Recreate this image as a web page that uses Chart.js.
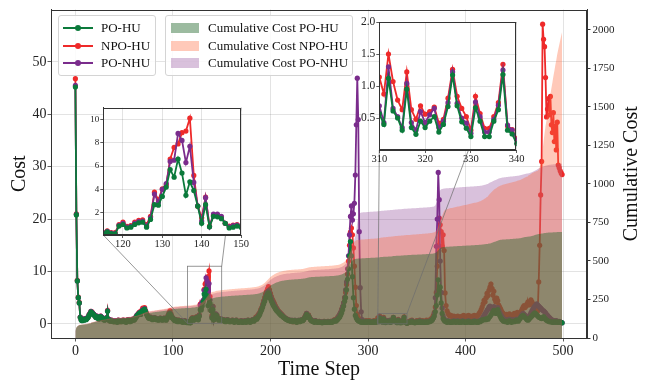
<!DOCTYPE html>
<html>
<head>
<meta charset="utf-8">
<title>Cost and cumulative cost</title>
<script src="https://cdn.jsdelivr.net/npm/chart.js@4.4.0/dist/chart.umd.min.js"></script>
<style>
  html, body { margin: 0; padding: 0; background: #fff; }
  #wrap { position: relative; width: 651px; height: 382px; overflow: hidden; font-family: 'Liberation Serif', 'Times New Roman', serif; }
  #wrap canvas { position: absolute; }
  .legend { position: absolute; background: rgba(255,255,255,0.85); border: 1px solid #d4d4d4; border-radius: 3px; font-size: 13px; color: #111; }
  .legend .row { position: absolute; left: 0; right: 0; height: 18px; line-height: 18px; }
  .legend .txt { position: absolute; left: 42px; white-space: nowrap; }
  .legend .ln { position: absolute; left: 4px; top: 8px; width: 30px; height: 2px; }
  .legend .dot { position: absolute; left: 16px; top: 6px; width: 6px; height: 6px; border-radius: 50%; }
  .legend .patch { position: absolute; left: 5px; top: 4px; width: 28px; height: 10px; }
</style>
</head>
<body>
<div id="wrap">
  <canvas id="main" width="651" height="382" style="left:0;top:0"></canvas>
  <canvas id="inset1" width="172" height="152" style="left:78px;top:100px"></canvas>
  <canvas id="inset2" width="178" height="156" style="left:348px;top:12px"></canvas>
  <div class="legend" id="leg1" style="left:58px;top:15px;width:96px;height:59px"></div>
  <div class="legend" id="leg2" style="left:165px;top:15px;width:186px;height:59px"></div>
</div>
<script>
// cost per time step, t = 0..499
const poHu = [
  45.2,20.8,8.2,5.0,4.0,1.2,0.7,0.6,0.8,0.7,
  0.9,0.8,1.0,1.2,1.6,1.9,2.3,2.1,1.9,1.7,
  1.5,1.2,1.4,1.1,0.9,1.3,1.4,1.2,1.0,0.8,
  0.7,0.9,1.1,2.4,0.8,0.6,0.5,0.6,0.5,0.4,
  0.4,0.5,0.4,0.3,0.6,0.5,0.4,0.5,0.4,0.6,
  0.5,0.4,0.3,0.5,0.7,0.6,0.4,0.5,0.7,0.8,
  0.7,0.9,1.2,1.5,1.7,1.9,2.1,1.8,2.3,2.6,
  2.5,2.8,2.3,1.8,1.4,1.1,1.0,1.2,1.0,0.8,
  0.9,1.1,1.0,0.8,0.9,0.7,0.8,1.0,0.9,0.7,
  0.8,1.0,0.9,0.7,1.0,1.4,1.8,1.9,1.6,1.2,
  1.0,0.8,0.6,0.7,0.5,0.4,0.6,0.5,0.4,0.5,
  0.3,0.4,0.5,0.3,0.3,0.23,0.37,0.23,0.2,0.86,
  1.0,0.7,0.77,1.0,1.14,1.2,0.77,1.43,2.7,2.65,
  3.4,4.2,5.7,5.05,6.6,5.4,3.5,4.65,3.9,2.57,
  1.1,2.7,0.8,1.7,1.66,1.5,1.1,0.7,0.77,0.86,
  0.77,0.6,0.7,0.5,0.4,0.6,0.7,0.5,0.4,0.4,
  0.5,0.6,0.4,0.3,0.5,0.6,0.4,0.3,0.3,0.4,
  0.5,0.3,0.3,0.4,0.5,0.3,0.4,0.6,0.5,0.3,
  0.4,0.6,0.7,0.5,0.8,1.0,0.9,1.2,1.5,1.8,
  2.3,2.7,3.2,3.8,4.3,4.9,5.3,5.7,5.9,5.5,
  4.8,4.3,3.9,3.5,3.2,2.9,2.6,2.4,2.2,2.0,
  1.8,1.6,1.5,1.3,1.2,1.0,0.9,0.8,0.7,0.6,
  0.6,0.5,0.6,0.4,0.5,0.6,0.4,0.3,0.5,0.6,
  0.4,0.5,0.7,0.6,0.8,1.1,1.4,1.8,1.3,1.5,
  1.1,0.8,0.6,0.5,0.4,0.3,0.5,0.4,0.3,0.3,
  0.4,0.3,0.3,0.2,0.3,0.4,0.3,0.3,0.3,0.4,
  0.3,0.3,0.4,0.3,0.4,0.5,0.6,0.5,0.7,0.9,
  1.1,1.3,1.7,2.1,2.7,3.4,4.3,5.0,6.5,8.5,
  10.5,13.0,15.7,13.0,9.0,5.0,2.8,1.6,1.1,0.8,
  0.6,0.5,0.4,0.3,0.4,0.3,0.3,0.4,0.3,0.3,
  0.4,0.4,0.3,0.3,0.3,0.4,0.4,0.3,0.3,0.4,
  0.57,0.4,1.12,0.61,0.5,0.31,0.95,0.35,0.245,0.45,
  0.35,0.45,0.52,0.28,0.4,0.68,1.17,0.69,0.44,0.34,
  0.21,0.66,0.45,0.21,0.21,0.45,0.63,1.18,0.31,0.25,
  0.1,0.3,0.3,0.3,0.4,0.5,0.3,0.3,0.2,0.3,
  0.4,0.3,0.3,0.5,0.3,0.3,0.4,0.3,0.3,0.3,
  0.4,0.3,0.4,0.4,0.5,0.6,0.8,1.1,1.5,2.3,
  3.5,5.5,8.4,6.5,7.0,4.0,2.0,1.0,0.7,0.5,
  0.4,0.3,0.5,0.4,0.3,0.3,0.4,0.3,0.5,0.4,
  0.3,0.4,0.5,0.3,0.3,0.4,0.3,0.5,0.4,0.3,
  0.3,0.4,0.3,0.5,0.4,0.3,0.3,0.4,0.3,0.5,
  0.4,0.3,0.4,0.3,0.5,0.4,0.6,0.7,0.8,0.8,
  0.9,0.8,1.0,0.9,1.2,1.4,1.7,2.0,2.3,2.6,
  2.3,2.0,2.4,2.7,2.1,1.6,1.2,0.9,0.7,0.5,
  0.5,0.4,0.5,0.3,0.4,0.6,0.5,0.3,0.4,0.5,
  0.4,0.5,0.7,0.6,0.5,0.8,1.0,1.3,1.5,1.6,
  1.4,1.2,1.0,0.8,0.7,0.9,1.1,1.3,1.5,1.7,
  1.9,2.1,1.9,1.7,1.5,1.3,1.2,1.1,1.0,1.2,
  1.4,1.1,0.9,0.7,0.6,0.5,0.4,0.4,0.4,0.3,
  0.3,0.4,0.3,0.4,0.3,0.3,0.4,0.3,0.3,0.2
];
const npoHu = [
  46.8,21.0,8.3,5.1,4.1,1.3,0.8,0.7,0.9,0.8,
  1.0,0.9,1.1,1.3,1.7,2.0,2.4,2.3,2.0,1.8,
  1.6,1.3,1.5,1.2,1.0,1.4,1.5,1.3,1.1,0.9,
  0.8,1.0,1.2,2.6,0.9,0.7,0.5,0.7,0.6,0.5,
  0.4,0.6,0.5,0.4,0.7,0.5,0.4,0.6,0.5,0.7,
  0.6,0.5,0.4,0.6,0.8,0.7,0.5,0.6,0.8,0.9,
  0.8,1.0,1.3,1.6,1.8,2.1,2.3,2.0,2.6,3.0,
  2.8,3.1,2.5,2.0,1.6,1.2,1.1,1.3,1.1,0.9,
  1.0,1.2,1.1,0.9,1.0,0.8,0.9,1.1,1.0,0.8,
  0.9,1.1,1.0,0.8,1.1,1.6,2.1,2.5,1.9,1.4,
  1.1,0.9,0.7,0.8,0.6,0.5,0.7,0.6,0.5,0.6,
  0.4,0.5,0.6,0.4,0.4,0.3,0.45,0.3,0.3,1.0,
  1.2,0.85,0.9,1.2,1.35,1.4,1.0,1.7,3.77,3.1,
  4.06,4.4,6.6,7.6,7.9,8.86,9.0,10.1,5.2,2.57,
  1.57,3.34,0.86,1.8,1.8,1.63,1.1,0.86,0.94,1.0,
  0.86,0.7,0.8,0.6,0.5,0.7,0.8,0.6,0.5,0.5,
  0.6,0.7,0.5,0.4,0.6,0.7,0.5,0.4,0.4,0.5,
  0.6,0.4,0.4,0.5,0.6,0.4,0.5,0.7,0.6,0.4,
  0.5,0.7,0.8,0.6,0.9,1.3,1.3,1.6,1.9,2.2,
  2.7,3.1,3.7,4.4,5.0,5.7,6.2,6.7,7.1,6.5,
  5.8,5.2,4.7,4.3,3.9,3.5,3.1,2.8,2.5,2.3,
  2.1,1.9,1.7,1.5,1.3,1.1,1.0,0.9,0.8,0.7,
  0.6,0.5,0.6,0.4,0.5,0.6,0.4,0.4,0.5,0.6,
  0.5,0.6,0.8,0.7,0.9,1.3,1.6,2.0,1.5,1.7,
  1.3,0.9,0.7,0.6,0.5,0.4,0.6,0.5,0.4,0.4,
  0.5,0.4,0.4,0.3,0.4,0.5,0.4,0.3,0.4,0.5,
  0.4,0.4,0.5,0.4,0.5,0.7,0.8,0.7,1.0,1.3,
  1.5,1.8,2.2,2.8,3.3,4.0,5.0,6.0,7.5,9.5,
  12.0,15.0,17.5,18.3,17.0,14.5,11.0,7.0,3.5,1.8,
  1.2,0.8,0.6,0.5,0.4,0.5,0.4,0.5,0.6,0.4,
  0.5,0.6,0.4,0.5,0.3,0.4,0.6,0.5,0.4,0.6,
  1.14,0.875,1.5,1.07,0.78,0.63,1.22,0.63,0.48,0.69,
  0.56,0.6,0.67,0.42,0.48,0.81,1.26,0.84,0.65,0.52,
  0.31,0.84,0.57,0.34,0.34,0.52,0.74,1.34,0.375,0.32,
  0.18,0.4,0.5,0.4,0.6,0.7,0.5,0.4,0.4,0.5,
  0.6,0.4,0.5,0.7,0.5,0.4,0.6,0.5,0.4,0.5,
  0.7,0.6,0.5,0.7,0.8,1.0,1.2,1.6,2.2,3.2,
  6.0,11.0,15.0,20.2,18.9,17.6,14.8,17.0,14.0,5.9,
  3.5,2.5,2.0,1.7,1.5,1.6,1.4,1.3,1.5,1.4,
  1.3,1.4,1.5,1.3,1.2,1.4,1.3,1.5,1.6,1.4,
  1.3,1.5,1.4,1.6,1.5,1.3,1.4,1.5,1.4,1.6,
  1.5,1.4,1.5,1.7,2.0,2.3,2.7,3.2,3.8,4.5,
  4.2,5.0,5.8,5.4,6.4,7.0,7.6,6.8,5.5,6.2,
  4.7,4.2,4.9,4.4,3.6,3.2,2.8,2.4,2.1,1.9,
  1.7,1.6,1.8,1.5,1.7,1.9,1.6,1.4,1.6,1.8,
  2.0,1.7,1.9,2.2,2.0,1.8,2.1,2.4,2.8,3.2,
  3.5,3.1,3.4,3.8,4.2,3.6,4.1,4.6,4.2,3.8,
  3.4,2.8,2.4,2.1,2.5,8.0,15.0,24.6,31.0,57.2,
  54.3,52.9,47.0,39.5,41.0,43.0,39.9,43.4,38.0,36.5,
  40.3,34.8,37.7,33.2,38.5,30.3,29.8,29.2,28.8,28.5
];
const poNhu = [
  45.5,20.9,8.2,5.0,4.0,1.3,0.8,0.7,0.9,0.8,
  1.0,0.9,1.1,1.3,1.7,2.0,2.4,2.2,2.0,1.8,
  1.6,1.3,1.5,1.2,1.0,1.4,1.5,1.3,1.1,0.9,
  0.8,1.0,1.2,2.5,0.9,0.7,0.6,0.7,0.6,0.5,
  0.5,0.6,0.5,0.4,0.7,0.6,0.5,0.6,0.5,0.7,
  0.6,0.5,0.4,0.6,0.8,0.7,0.5,0.6,0.8,0.9,
  0.8,1.0,1.3,1.6,1.8,2.0,2.2,1.9,2.4,2.7,
  2.6,2.9,2.4,1.9,1.5,1.2,1.1,1.3,1.1,0.9,
  1.0,1.2,1.1,0.9,1.0,0.8,0.9,1.1,1.0,0.8,
  0.9,1.1,1.0,0.8,1.1,1.5,1.9,2.0,1.7,1.3,
  1.1,0.9,0.7,0.8,0.6,0.5,0.7,0.6,0.5,0.6,
  0.4,0.5,0.6,0.4,0.35,0.28,0.42,0.27,0.25,0.93,
  1.1,0.78,0.84,1.1,1.25,1.3,0.88,1.6,3.6,2.9,
  4.0,4.5,6.4,6.5,8.8,8.2,6.3,7.7,4.6,2.6,
  1.3,3.3,0.8,1.9,1.9,1.7,1.1,0.8,0.9,0.95,
  0.85,0.7,0.8,0.6,0.5,0.7,0.8,0.6,0.5,0.5,
  0.6,0.7,0.5,0.4,0.6,0.7,0.5,0.4,0.4,0.5,
  0.6,0.4,0.4,0.5,0.6,0.4,0.5,0.7,0.6,0.4,
  0.5,0.7,0.8,0.6,0.9,1.1,1.1,1.4,1.7,2.0,
  2.5,2.9,3.5,4.1,4.6,5.2,5.6,6.0,6.3,5.9,
  5.3,4.8,4.3,3.9,3.5,3.2,2.9,2.6,2.4,2.2,
  2.0,1.8,1.6,1.4,1.3,1.1,1.0,0.9,0.8,0.7,
  0.7,0.6,0.7,0.5,0.6,0.7,0.5,0.4,0.6,0.7,
  0.5,0.6,0.8,0.7,0.9,1.2,1.6,2.0,1.4,1.6,
  1.2,0.9,0.7,0.6,0.5,0.4,0.6,0.5,0.4,0.4,
  0.5,0.4,0.4,0.3,0.4,0.5,0.4,0.3,0.4,0.5,
  0.4,0.4,0.5,0.4,0.5,0.6,0.7,0.6,0.9,1.1,
  1.5,1.8,2.2,2.7,3.3,4.0,5.0,6.5,8.0,10.5,
  13.0,17.0,20.5,22.5,19.8,21.0,23.0,28.4,38.0,46.9,
  39.0,17.6,6.9,2.3,0.8,0.5,0.4,0.5,0.4,0.5,
  0.5,0.4,0.4,0.5,0.3,0.4,0.5,0.4,0.4,0.5,
  0.69,0.43,1.3,0.65,0.52,0.35,1.04,0.43,0.31,0.6,
  0.43,0.55,0.65,0.35,0.45,0.74,1.22,0.73,0.5,0.42,
  0.26,0.75,0.52,0.28,0.28,0.48,0.7,1.25,0.39,0.31,
  0.16,0.3,0.4,0.3,0.5,0.6,0.4,0.3,0.3,0.4,
  0.5,0.3,0.4,0.6,0.4,0.3,0.5,0.4,0.3,0.4,
  0.5,0.4,0.5,0.5,0.6,0.7,0.9,1.2,2.0,5.0,
  14.8,20.0,28.9,23.7,12.0,6.0,3.0,1.5,1.0,0.7,
  0.5,0.4,0.6,0.5,0.4,0.3,0.5,0.4,0.6,0.5,
  0.4,0.5,0.6,0.4,0.3,0.5,0.4,0.6,0.5,0.4,
  0.3,0.5,0.4,0.6,0.5,0.3,0.4,0.5,0.4,0.6,
  0.5,0.4,0.5,0.4,0.6,0.6,0.8,1.0,1.3,1.6,
  1.9,2.2,2.6,2.8,3.2,3.4,3.1,2.8,3.0,3.3,
  2.9,2.6,2.8,3.1,2.6,2.2,1.8,1.5,1.2,1.0,
  0.8,0.7,0.8,0.6,0.7,0.9,0.8,0.6,0.7,0.8,
  0.6,0.7,0.9,0.8,0.7,1.0,1.2,1.5,1.8,2.0,
  1.8,1.6,1.4,1.3,1.2,1.4,1.7,2.1,2.5,2.8,
  3.1,3.4,3.6,3.8,3.6,3.4,3.2,3.0,2.8,2.6,
  2.5,2.3,2.1,1.8,1.6,1.4,1.2,1.0,0.8,0.7,
  0.6,0.6,0.5,0.6,0.5,0.4,0.5,0.4,0.3,0.2
];

const costLabels = ['PO-HU', 'NPO-HU', 'PO-NHU'];
const cumLabels = ['Cumulative Cost PO-HU', 'Cumulative Cost NPO-HU', 'Cumulative Cost PO-NHU'];

// tick labels
const xTicks = [0, 100, 200, 300, 400, 500];
const costTicks = [0, 10, 20, 30, 40, 50];
const cumTicks = [0, 250, 500, 750, 1000, 1250, 1500, 1750, 2000];
const zoom1Range = [115, 150];
const zoom1XTicks = [120, 130, 140, 150];
const zoom1YTicks = [2, 4, 6, 8, 10];
const zoom2Range = [310, 340];
const zoom2XTicks = [310, 320, 330, 340];
const zoom2YTicks = [0.5, 1.0, 1.5, 2.0];

const FONT = "'Liberation Serif', 'Times New Roman', serif";
const GREEN = '#0b7a3b', RED = '#ee2a2a', PURPLE = '#7a2c8c';
const GREEN_FILL = 'rgba(35,105,45,0.45)';
const RED_FILL = 'rgba(255,105,60,0.36)';
const PURPLE_FILL = 'rgba(130,50,140,0.3)';
const INK = '#222';

// inset boxes on the page (plot area corners)
const BOX1 = { left: 103.3, top: 107.7, right: 241, bottom: 235 };
const BOX2 = { left: 379.3, top: 22, right: 516.7, bottom: 150 };

const xy = arr => arr.map((v, i) => ({ x: i, y: v }));
const cumsum = arr => { let s = 0; return arr.map(v => (s += v)); };

function lineDs(label, arr, color, order, range) {
  let pts = xy(arr);
  if (range) pts = pts.slice(range[0], range[1] + 1);
  return {
    label, data: pts, order,
    borderColor: color, backgroundColor: color,
    borderWidth: 1.8, pointRadius: 2.6, pointBorderWidth: 0,
    pointBackgroundColor: color, tension: 0, fill: false, yAxisID: 'y'
  };
}
function areaDs(label, arr, color, order) {
  return {
    label, data: xy(cumsum(arr)), order,
    borderWidth: 0, borderColor: 'rgba(0,0,0,0)', backgroundColor: color,
    pointRadius: 0, fill: 'origin', tension: 0, yAxisID: 'y2'
  };
}
const fixTicks = list => scale => { scale.ticks = list.map(v => ({ value: v })); };

const frame = {
  id: 'frame',
  beforeDraw(chart, args, opts) {
    if (!opts.white) return;
    const a = chart.chartArea, ctx = chart.ctx;
    ctx.save(); ctx.fillStyle = '#fff';
    ctx.fillRect(a.left, a.top, a.right - a.left, a.bottom - a.top);
    ctx.restore();
  },
  afterDraw(chart) {
    const a = chart.chartArea, ctx = chart.ctx;
    ctx.save(); ctx.strokeStyle = '#333'; ctx.lineWidth = 1;
    ctx.strokeRect(Math.round(a.left) + 0.5, Math.round(a.top) + 0.5,
      Math.round(a.right - a.left) - 1, Math.round(a.bottom - a.top) - 1);
    ctx.restore();
  }
};

// zoom rectangles and connector lines (mark_inset style)
const insetMarks = {
  id: 'insetMarks',
  afterDatasetsDraw(chart) {
    const { x, y } = chart.scales, ctx = chart.ctx;
    const marks = [
      { xr: zoom1Range, yr: [0.1, 11], box: BOX1 },
      { xr: zoom2Range, yr: [0, 2], box: BOX2 }
    ];
    ctx.save();
    ctx.strokeStyle = 'rgba(110,110,110,0.9)'; ctx.lineWidth = 0.8;
    marks.forEach(m => {
      const l = x.getPixelForValue(m.xr[0]), r = x.getPixelForValue(m.xr[1]);
      const b = y.getPixelForValue(m.yr[0]), t = y.getPixelForValue(m.yr[1]);
      ctx.strokeRect(l, t, r - l, b - t);
      ctx.beginPath();
      ctx.moveTo(r, t); ctx.lineTo(m.box.right, m.box.top);
      ctx.moveTo(l, b); ctx.lineTo(m.box.left, m.box.bottom);
      ctx.stroke();
    });
    ctx.restore();
  }
};

const rightTitle = {
  id: 'rightTitle',
  afterDraw(chart) {
    const a = chart.chartArea, ctx = chart.ctx;
    ctx.save();
    ctx.translate(632, (a.top + a.bottom) / 2);
    ctx.rotate(-Math.PI / 2);
    ctx.font = '20px ' + FONT; ctx.fillStyle = '#111';
    ctx.textAlign = 'center'; ctx.textBaseline = 'middle';
    ctx.fillText('Cumulative Cost', 0, 0);
    ctx.restore();
  }
};

const gridStyle = { color: 'rgba(0,0,0,0.14)', lineWidth: 0.8, tickColor: '#333', tickLength: 3.5 };

new Chart(document.getElementById('main'), {
  type: 'line',
  data: {
    datasets: [
      lineDs(costLabels[0], poHu, GREEN, 4),
      lineDs(costLabels[2], poNhu, PURPLE, 5),
      lineDs(costLabels[1], npoHu, RED, 6),
      areaDs(cumLabels[0], poHu, GREEN_FILL, 1),
      areaDs(cumLabels[1], npoHu, RED_FILL, 2),
      areaDs(cumLabels[2], poNhu, PURPLE_FILL, 3)
    ]
  },
  options: {
    responsive: false, animation: false, events: [],
    layout: { padding: { top: 9.5, left: 0, right: 0, bottom: 0 } },
    plugins: { legend: { display: false }, tooltip: { enabled: false } },
    scales: {
      x: {
        type: 'linear', min: -25, max: 524.5,
        afterBuildTicks: fixTicks(xTicks),
        afterFit: s => { s.height = 44; },
        grid: gridStyle,
        border: { color: '#333' },
        ticks: { color: INK, font: { family: FONT, size: 14 }, padding: 1, maxRotation: 0 },
        title: { display: true, text: 'Time Step', color: '#111', font: { family: FONT, size: 20, lineHeight: 1.2 }, padding: { top: 0, bottom: 0 } }
      },
      y: {
        position: 'left', min: -2.7, max: 60,
        afterBuildTicks: fixTicks(costTicks),
        afterFit: s => { s.width = 51; },
        grid: gridStyle,
        border: { color: '#333' },
        ticks: { color: INK, font: { family: FONT, size: 14 }, padding: 1 },
        title: { display: true, text: 'Cost', color: '#111', font: { family: FONT, size: 20, lineHeight: 1.2 }, padding: { top: 8, bottom: 0 } }
      },
      y2: {
        position: 'right', min: 0, max: 2133,
        afterBuildTicks: fixTicks(cumTicks),
        afterFit: s => { s.width = 64; },
        grid: { drawOnChartArea: false, tickColor: '#333', tickLength: 3.5 },
        border: { color: '#333' },
        ticks: { color: INK, font: { family: FONT, size: 11 }, padding: 2, callback: v => String(v) }
      }
    }
  },
  plugins: [frame, insetMarks, rightTitle]
});

function inset(id, range, yr, xt, yt, yFont, xFont, yWidth, xHeight, pad) {
  return new Chart(document.getElementById(id), {
    type: 'line',
    data: {
      datasets: [
        lineDs(costLabels[0], poHu, GREEN, 1, range),
        lineDs(costLabels[2], poNhu, PURPLE, 2, range),
        lineDs(costLabels[1], npoHu, RED, 3, range)
      ]
    },
    options: {
      responsive: false, animation: false, events: [],
      layout: { padding: pad },
      plugins: { legend: { display: false }, tooltip: { enabled: false }, frame: { white: true } },
      scales: {
        x: {
          type: 'linear', min: range[0], max: range[1],
          afterBuildTicks: fixTicks(xt),
          afterFit: s => { s.height = xHeight; },
          grid: { color: 'rgba(0,0,0,0.14)', lineWidth: 0.8, tickColor: '#333', tickLength: 3 },
          border: { color: '#333' },
          ticks: { color: INK, font: { family: FONT, size: xFont }, padding: 0, maxRotation: 0 }
        },
        y: {
          min: yr[0], max: yr[1],
          afterBuildTicks: fixTicks(yt),
          afterFit: s => { s.width = yWidth; },
          grid: { color: 'rgba(0,0,0,0.14)', lineWidth: 0.8, tickColor: '#333', tickLength: 3 },
          border: { color: '#333' },
          ticks: { color: INK, font: { family: FONT, size: yFont }, padding: 1,
            callback: v => (yt[0] % 1 ? v.toFixed(1) : String(v)) }
        }
      }
    },
    plugins: [frame]
  });
}
inset('inset1', zoom1Range, [0.1, 11], zoom1XTicks, zoom1YTicks, 9, 10.5,
  BOX1.left - 78, 100 + 152 - BOX1.bottom, { top: BOX1.top - 100, right: 78 + 172 - BOX1.right, left: 0, bottom: 0 });
inset('inset2', zoom2Range, [0, 2], zoom2XTicks, zoom2YTicks, 11.5, 10.5,
  BOX2.left - 348, 12 + 156 - BOX2.bottom, { top: BOX2.top - 12, right: 348 + 178 - BOX2.right, left: 0, bottom: 0 });

// legends
const leg1 = document.getElementById('leg1');
[GREEN, RED, PURPLE].forEach((c, i) => {
  const row = document.createElement('div');
  row.className = 'row'; row.style.top = (3 + i * 17.5) + 'px';
  row.innerHTML = '<span class="ln" style="background:' + c + '"></span><span class="dot" style="background:' + c + '"></span><span class="txt">' + costLabels[i] + '</span>';
  leg1.appendChild(row);
});
const leg2 = document.getElementById('leg2');
[GREEN_FILL, RED_FILL, PURPLE_FILL].forEach((c, i) => {
  const row = document.createElement('div');
  row.className = 'row'; row.style.top = (3 + i * 17.5) + 'px';
  row.innerHTML = '<span class="patch" style="background:' + c + '"></span><span class="txt">' + cumLabels[i] + '</span>';
  leg2.appendChild(row);
});
</script>
</body>
</html>
